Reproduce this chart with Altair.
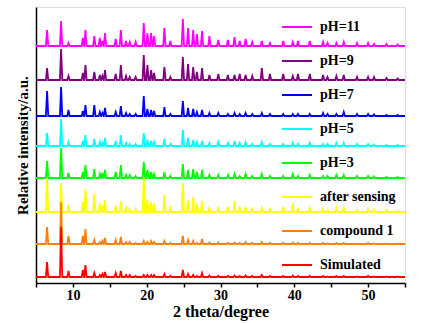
import altair as alt
import pandas as pd

# 2-theta peak positions shared by all patterns
peak_pos = [6.5, 8.4, 9.4, 11.35, 11.7, 12.9, 13.65, 14.0, 14.35, 15.8,
            16.5, 17.2, 17.7, 18.5, 19.6, 20.1, 20.6, 21.0, 22.4, 23.2,
            24.9, 25.6, 26.3, 26.8, 27.5, 28.5, 29.7, 31.0, 31.9, 32.6,
            33.4, 34.3, 35.6, 36.7, 38.5, 39.8, 40.5, 42.1, 43.9, 44.5,
            45.7, 46.7, 48.5, 50.0, 50.8, 52.5, 54.0]

series = ["pH=11", "pH=9", "pH=7", "pH=5", "pH=3",
          "after sensing", "compound 1", "Simulated"]
colors = ["#FF00FF", "#800080", "#0000FF", "#00FFFF", "#00FF00",
          "#FFFF00", "#FF8000", "#FF0000"]
# vertical offset of each pattern (a.u.)
offsets = [237, 203, 167, 137, 105, 71, 39, 6]

heights = {
    "Simulated": [15, 50, 6, 7, 12, 4, 2, 3, 5, 4, 6, 2, 2, 1, 2, 2, 2, 2, 3, 1,
                  7, 3, 2, 1, 4, 1.5, 1, 1, 1.5, 1, 1.5, 1, 2, 1, 1, 1.5, 1, 1, 1,
                  0.5, 1, 1, 0.5, 1, 0.5, 0.5, 0.5],
    "compound 1": [17, 42, 8, 8, 15, 4, 2, 3, 6, 4, 7, 2, 2, 1, 3, 2, 3, 2, 3, 1,
                   8, 4, 3, 1, 5, 1.5, 1.5, 1, 1.5, 1, 2, 1, 2, 1, 1, 1.5, 1, 1, 1,
                   0.5, 1, 1, 0.5, 1, 0.5, 0.5, 0.5],
    "after sensing": [34, 29, 7, 10, 23, 18, 9, 6, 12, 6, 11, 4, 3, 3, 35, 12, 10, 8,
                      17, 4, 29, 12, 15, 8, 11, 4, 5, 5, 11, 4, 5, 3, 4, 3, 5, 9, 3,
                      4, 3, 2, 4, 4, 2, 3, 2, 2, 1],
    "pH=3": [17, 30, 5, 6, 13, 9, 4, 5, 8, 6, 13, 3, 3, 2, 16, 8, 6, 4, 6, 2, 14, 8,
             9, 6, 8, 3, 3, 3, 4, 2, 4, 2, 4, 2, 2, 4, 2, 3, 2, 2, 3, 3, 2, 2, 1.5, 1, 1],
    "pH=5": [13, 27, 4, 5, 11, 7, 4, 3, 8, 5, 11, 3, 2, 2, 13, 6, 5, 4, 7, 2, 16, 8,
             6, 4, 5, 3, 4, 3, 5, 3, 4, 2, 4, 2, 2, 3, 2, 3, 2, 2, 3, 3, 2, 2, 1.5, 1, 1],
    "pH=7": [25, 29, 6, 5, 11, 11, 4, 3, 8, 4, 10, 3, 2, 2, 20, 7, 6, 5, 9, 2, 15, 8,
             7, 4, 6, 3, 3, 2, 3, 2, 3, 2, 3, 2, 2, 2, 2, 2, 3, 2, 2, 4, 2, 2, 1.5, 1, 1],
    "pH=9": [12, 31, 4, 7, 15, 8, 5, 4, 10, 6, 15, 4, 3, 3, 25, 15, 10, 7, 13, 3, 23,
             16, 13, 8, 12, 5, 6, 5, 5, 6, 5, 4, 12, 6, 6, 4, 6, 6, 5, 3, 4, 5, 3, 3,
             3, 2, 1.5],
    "pH=11": [16, 25, 3, 8, 16, 10, 8, 5, 13, 7, 16, 5, 4, 4, 23, 13, 13, 10, 18, 5,
              27, 18, 16, 12, 15, 10, 6, 6, 9, 5, 7, 4, 5, 3, 5, 4, 5, 5, 4, 3, 3, 4,
              3, 3, 2, 2, 1.5],
}

HALF_WIDTH = 0.16
rows = []
for name, off in zip(series, offsets):
    rows.append({"series": name, "x": 5.0, "y": off})
    for p, h in zip(peak_pos, heights[name]):
        rows.append({"series": name, "x": p - HALF_WIDTH, "y": off})
        rows.append({"series": name, "x": p, "y": off + h})
        rows.append({"series": name, "x": p + HALF_WIDTH, "y": off})
    rows.append({"series": name, "x": 55.0, "y": off})
df = pd.DataFrame(rows)

FONT = "Liberation Serif"

chart = alt.Chart(df).mark_line(strokeWidth=1.8, clip=True).encode(
    x=alt.X("x:Q",
            scale=alt.Scale(domain=[5, 55], nice=False, zero=False),
            axis=alt.Axis(title="2 theta/degree",
                          values=list(range(5, 56, 5)),
                          labelExpr="datum.value % 10 == 0 ? datum.label : ''",
                          grid=False, tickSize=4, tickWidth=1.5, tickColor="black",
                          domainColor="black", domainWidth=1.5,
                          labelFont=FONT, labelFontSize=14, labelFontWeight="bold",
                          labelColor="black", labelPadding=1,
                          titleFont=FONT, titleFontSize=16, titleFontWeight="bold",
                          titleColor="black", titlePadding=1)),
    y=alt.Y("y:Q",
            scale=alt.Scale(domain=[0, 276], nice=False, zero=False),
            axis=alt.Axis(title="Relative intensity/a.u.", labels=False, ticks=False,
                          grid=False, domainColor="black", domainWidth=1.5,
                          titleFont=FONT, titleFontSize=15, titleFontWeight="bold",
                          titleColor="black", titlePadding=6)),
    color=alt.Color("series:N",
                    scale=alt.Scale(domain=series, range=colors),
                    legend=alt.Legend(title=None, orient="none",
                                      legendX=245, legendY=4,
                                      symbolType="stroke", symbolSize=900,
                                      symbolStrokeWidth=2, rowPadding=11,
                                      labelOffset=7, padding=0,
                                      labelFont=FONT, labelFontSize=14,
                                      labelFontWeight="bold", labelColor="black")),
    order=alt.Order("x:Q"),
).properties(
    width=369, height=276,
    autosize=alt.AutoSizeParams(type="none"),
    padding={"left": 36, "top": 7, "right": 17, "bottom": 40},
).configure_view(
    stroke="black", strokeWidth=1.5
).configure(background="white")

chart.save("out.html", embed_options={"renderer": "svg", "actions": False})
